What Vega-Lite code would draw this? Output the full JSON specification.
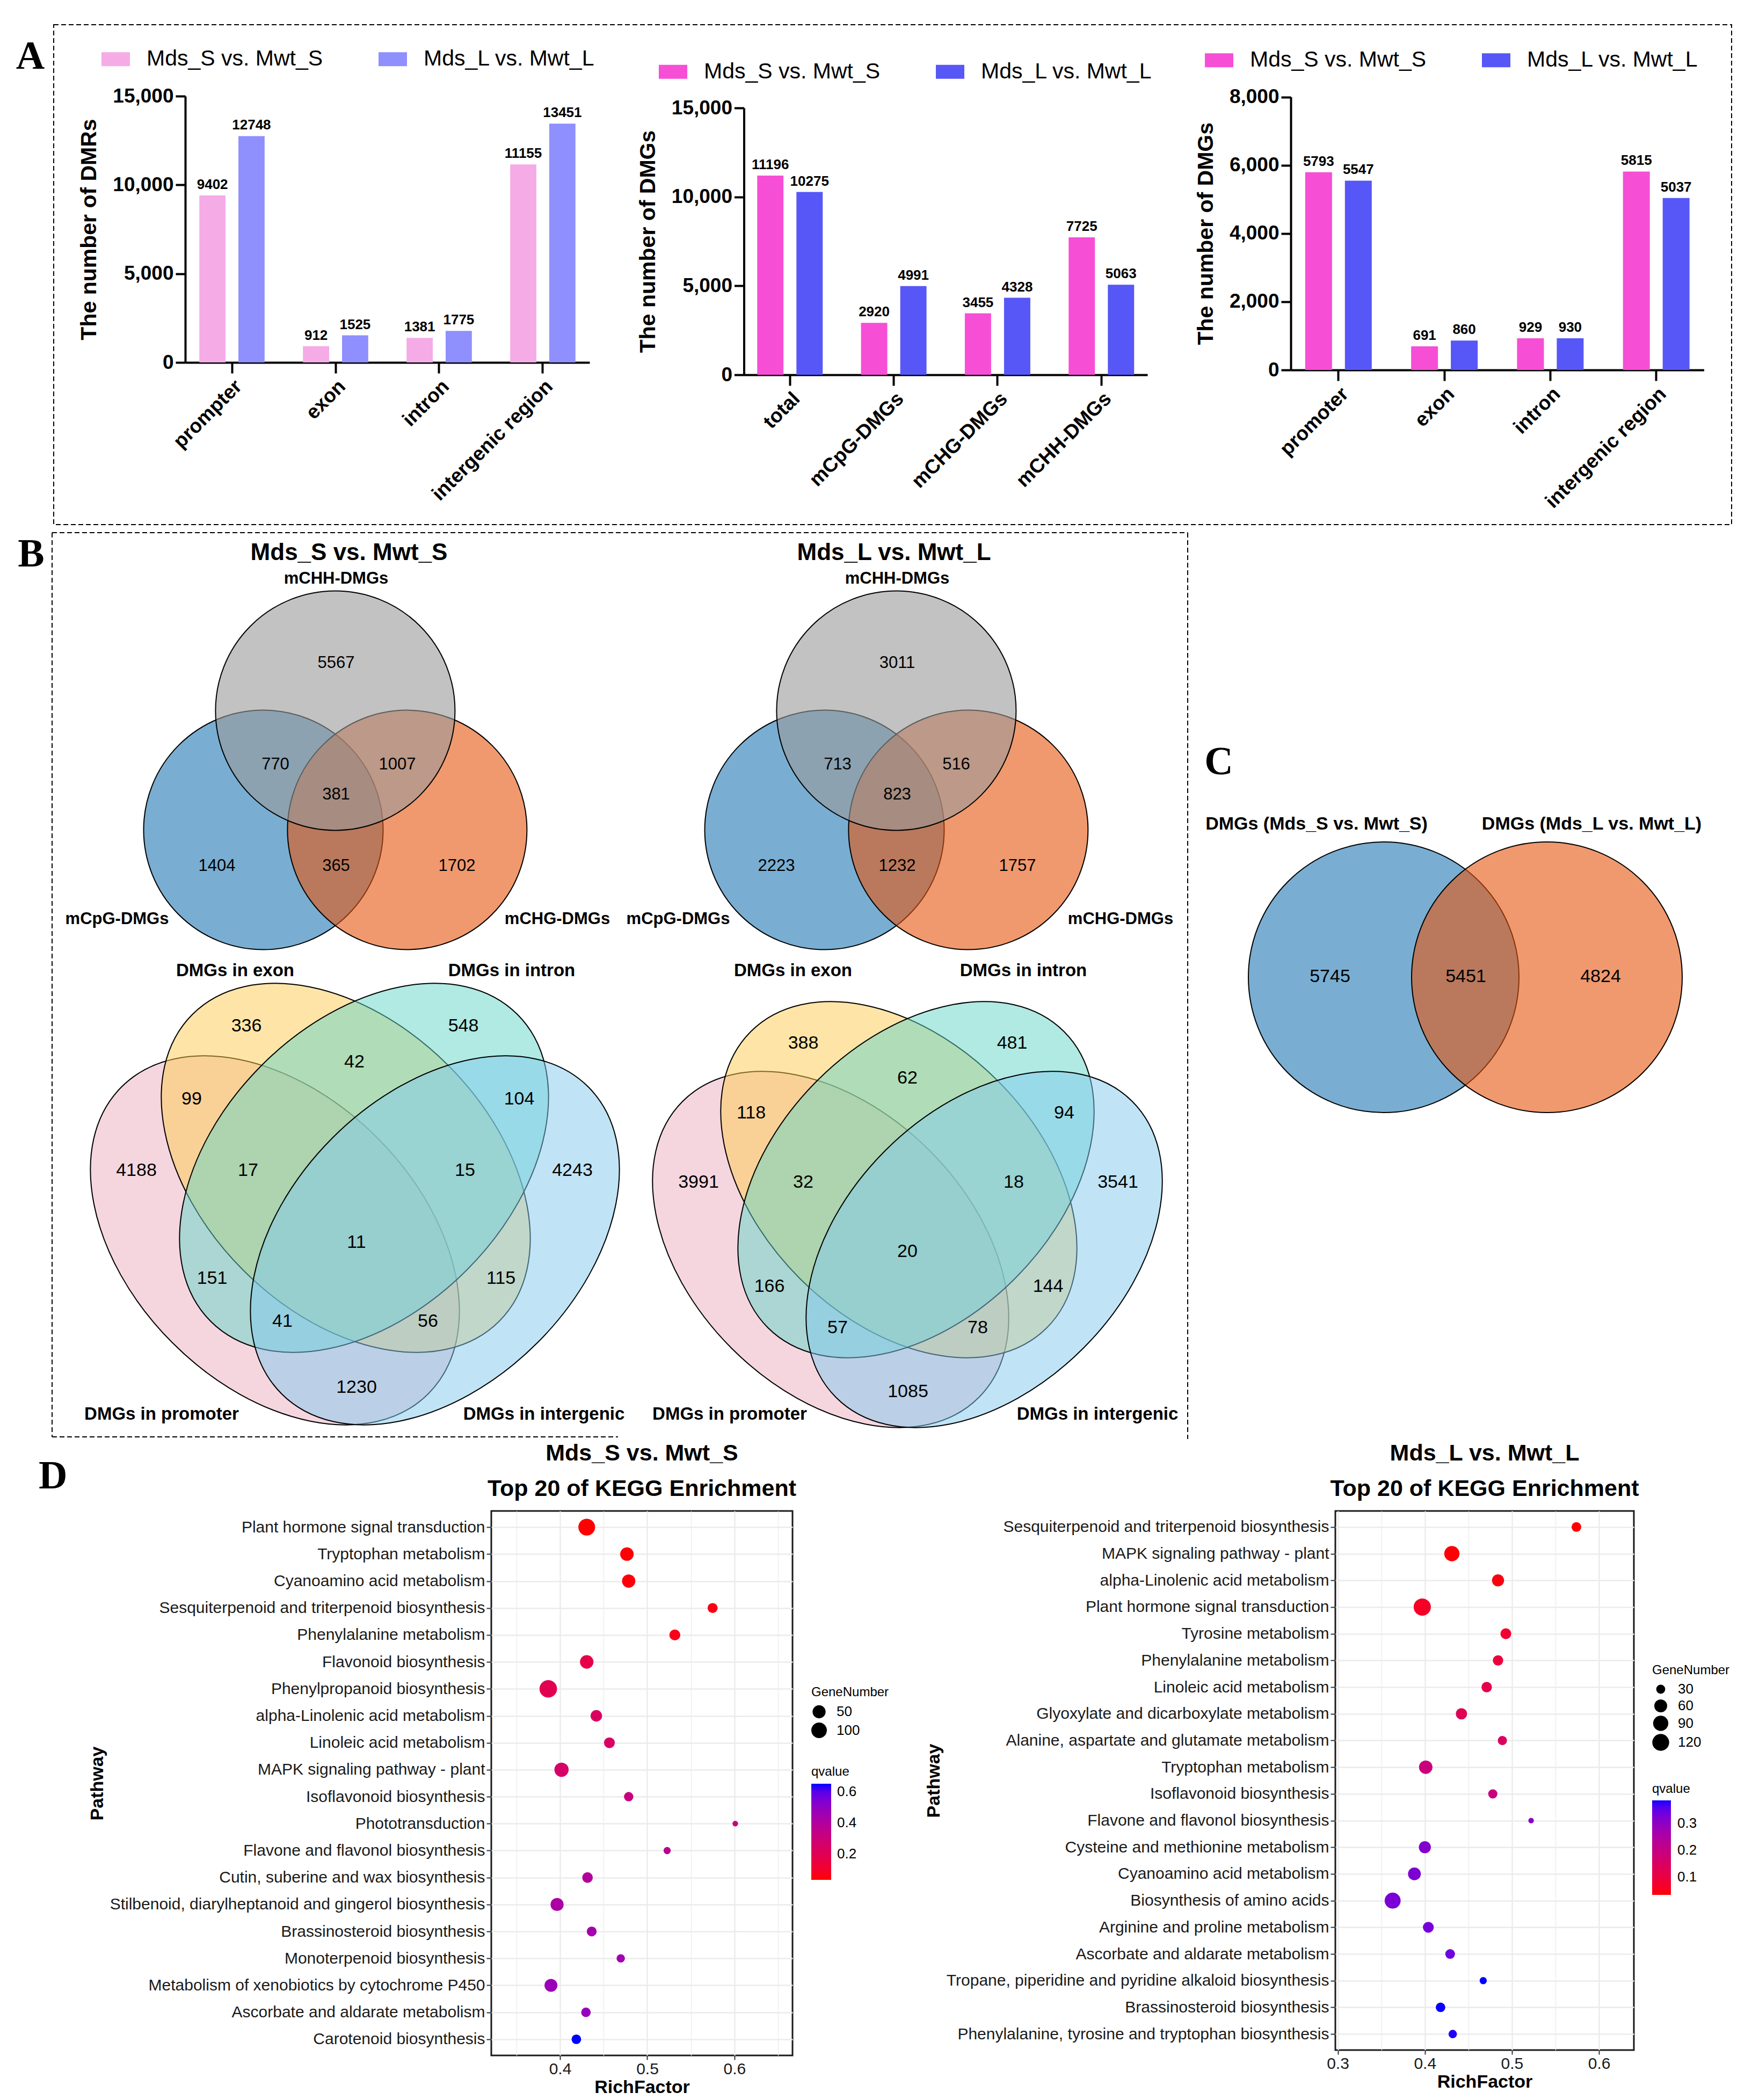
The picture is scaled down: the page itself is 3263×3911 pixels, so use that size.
{
  "$schema": "https://vega.github.io/schema/vega-lite/v6.json",
  "background": "white",
  "padding": 0,
  "spacing": 3,
  "config": {
    "font": "Liberation Sans",
    "view": {"stroke": null},
    "axis": {"labelOverlap": false, "labelLimit": 1000, "labelFlush": false, "maxExtent": 1000},
    "legend": {"labelLimit": 1000, "titleLimit": 1000}
  },
  "resolve": {
    "scale": {"color": "independent", "size": "independent", "fill": "independent"},
    "legend": {"color": "independent", "size": "independent", "fill": "independent"}
  },
  "vconcat": [
    {
      "width": 3263,
      "height": 2680,
      "resolve": {
        "scale": {"x": "independent", "y": "independent", "xOffset": "independent", "color": "independent", "fill": "independent"},
        "axis": {"x": "independent", "y": "independent"},
        "legend": {"color": "independent", "fill": "independent"}
      },
      "layer": [
        {
          "data": {"values": [{}]},
          "layer": [
            {"mark": {"type": "rect", "filled": false, "stroke": "black", "strokeWidth": 2, "strokeDash": [9, 5]},
             "encoding": {
               "x": {"datum": 100, "type": "quantitative", "scale": {"domain": [0, 3263], "range": [0, 3263], "nice": false, "zero": false}, "axis": null},
               "x2": {"datum": 3225},
               "y": {"datum": 46, "type": "quantitative", "scale": {"domain": [0, 2690], "range": [0, 2690], "nice": false, "zero": false}, "axis": null},
               "y2": {"datum": 977}}},
            {"mark": {"type": "rule", "color": "black", "strokeWidth": 2, "strokeDash": [9, 5]},
             "encoding": {"x": {"datum": 97, "type": "quantitative", "axis": null}, "x2": {"datum": 2212}, "y": {"datum": 992, "type": "quantitative", "axis": null}}},
            {"mark": {"type": "rule", "color": "black", "strokeWidth": 2, "strokeDash": [9, 5]},
             "encoding": {"x": {"datum": 97, "type": "quantitative", "axis": null}, "y": {"datum": 992, "type": "quantitative", "axis": null}, "y2": {"datum": 2676}}},
            {"mark": {"type": "rule", "color": "black", "strokeWidth": 2, "strokeDash": [9, 5]},
             "encoding": {"x": {"datum": 2212, "type": "quantitative", "axis": null}, "y": {"datum": 992, "type": "quantitative", "axis": null}, "y2": {"datum": 2680}}},
            {"mark": {"type": "rule", "color": "black", "strokeWidth": 2, "strokeDash": [9, 5]},
             "encoding": {"x": {"datum": 97, "type": "quantitative", "axis": null}, "x2": {"datum": 1151}, "y": {"datum": 2676, "type": "quantitative", "axis": null}}},
            {"mark": {"type": "text", "text": "A", "font": "Liberation Serif", "fontSize": 74, "fontWeight": "bold", "align": "center", "baseline": "alphabetic", "color": "black"},
             "encoding": {"x": {"datum": 56.5, "type": "quantitative", "axis": null}, "y": {"datum": 128, "type": "quantitative", "axis": null}}},
            {"mark": {"type": "text", "text": "B", "font": "Liberation Serif", "fontSize": 74, "fontWeight": "bold", "align": "center", "baseline": "alphabetic", "color": "black"},
             "encoding": {"x": {"datum": 58, "type": "quantitative", "axis": null}, "y": {"datum": 1055, "type": "quantitative", "axis": null}}},
            {"mark": {"type": "text", "text": "C", "font": "Liberation Serif", "fontSize": 74, "fontWeight": "bold", "align": "center", "baseline": "alphabetic", "color": "black"},
             "encoding": {"x": {"datum": 2270, "type": "quantitative", "axis": null}, "y": {"datum": 1442, "type": "quantitative", "axis": null}}}
          ]
        },
        {
          "data": {"values": [
            {"region": "prompter", "comparison": "Mds_S vs. Mwt_S", "count": 9402},
            {"region": "prompter", "comparison": "Mds_L vs. Mwt_L", "count": 12748},
            {"region": "exon", "comparison": "Mds_S vs. Mwt_S", "count": 912},
            {"region": "exon", "comparison": "Mds_L vs. Mwt_L", "count": 1525},
            {"region": "intron", "comparison": "Mds_S vs. Mwt_S", "count": 1381},
            {"region": "intron", "comparison": "Mds_L vs. Mwt_L", "count": 1775},
            {"region": "intergenic region", "comparison": "Mds_S vs. Mwt_S", "count": 11155},
            {"region": "intergenic region", "comparison": "Mds_L vs. Mwt_L", "count": 13451}
          ]},
          "encoding": {
            "x": {"field": "region", "type": "nominal", "sort": null,
                  "scale": {"range": [345, 1098], "paddingInner": 0.37, "paddingOuter": 0.136},
                  "axis": {"orient": "bottom", "offset": -2005, "title": null, "labelAngle": -45, "labelAlign": "right", "labelBaseline": "top", "labelFontSize": 37, "labelFontWeight": "bold", "labelColor": "black", "labelPadding": 6, "domainColor": "black", "domainWidth": 4, "tickColor": "black", "tickWidth": 4, "tickSize": 20, "grid": false}},
            "xOffset": {"field": "comparison", "type": "nominal", "sort": ["Mds_S vs. Mwt_S", "Mds_L vs. Mwt_L"], "scale": {"paddingInner": 0.33, "paddingOuter": 0}},
            "y": {"field": "count", "type": "quantitative",
                  "scale": {"domain": [0, 15000], "range": [675, 179], "nice": false},
                  "axis": {"orient": "left", "offset": -345, "values": [0, 5000, 10000, 15000], "format": ",.0f", "title": "The number of DMRs", "titleFontSize": 41, "titleFontWeight": "bold", "titleColor": "black", "titlePadding": 22, "labelFontSize": 37, "labelFontWeight": "bold", "labelColor": "black", "labelPadding": 4, "domainColor": "black", "domainWidth": 4, "tickColor": "black", "tickWidth": 4, "tickSize": 18, "grid": false}}
          },
          "layer": [
            {"mark": {"type": "bar"},
             "encoding": {"color": {"field": "comparison", "type": "nominal", "sort": ["Mds_S vs. Mwt_S", "Mds_L vs. Mwt_L"],
               "scale": {"domain": ["Mds_S vs. Mwt_S", "Mds_L vs. Mwt_L"], "range": ["#F5ABE6", "#8F8FFE"]},
               "legend": {"orient": "none", "legendX": 189, "legendY": 83.5, "direction": "horizontal", "title": null, "symbolType": "M-1,-0.49H1V0.49H-1Z", "symbolSize": 2809, "symbolStrokeWidth": 0, "symbolOpacity": 1, "labelFontSize": 41, "labelColor": "black", "labelOffset": 31, "columnPadding": 103}}}},
            {"mark": {"type": "text", "baseline": "alphabetic", "dy": -12, "font": "Liberation Sans Narrow, Liberation Sans", "fontSize": 26, "fontWeight": "bold", "color": "black"},
             "encoding": {"text": {"field": "count", "type": "quantitative", "format": "d"}}}
          ]
        },
        {
          "data": {"values": [
            {"group": "total", "comparison": "Mds_S vs. Mwt_S", "count": 11196},
            {"group": "total", "comparison": "Mds_L vs. Mwt_L", "count": 10275},
            {"group": "mCpG-DMGs", "comparison": "Mds_S vs. Mwt_S", "count": 2920},
            {"group": "mCpG-DMGs", "comparison": "Mds_L vs. Mwt_L", "count": 4991},
            {"group": "mCHG-DMGs", "comparison": "Mds_S vs. Mwt_S", "count": 3455},
            {"group": "mCHG-DMGs", "comparison": "Mds_L vs. Mwt_L", "count": 4328},
            {"group": "mCHH-DMGs", "comparison": "Mds_S vs. Mwt_S", "count": 7725},
            {"group": "mCHH-DMGs", "comparison": "Mds_L vs. Mwt_L", "count": 5063}
          ]},
          "encoding": {
            "x": {"field": "group", "type": "nominal", "sort": null,
                  "scale": {"range": [1385.5, 2137], "paddingInner": 0.369, "paddingOuter": 0.128},
                  "axis": {"orient": "bottom", "offset": -1982, "title": null, "labelAngle": -45, "labelAlign": "right", "labelBaseline": "top", "labelFontSize": 37, "labelFontWeight": "bold", "labelColor": "black", "labelPadding": 6, "domainColor": "black", "domainWidth": 4, "tickColor": "black", "tickWidth": 4, "tickSize": 20, "grid": false}},
            "xOffset": {"field": "comparison", "type": "nominal", "sort": ["Mds_S vs. Mwt_S", "Mds_L vs. Mwt_L"], "scale": {"paddingInner": 0.33, "paddingOuter": 0}},
            "y": {"field": "count", "type": "quantitative",
                  "scale": {"domain": [0, 15000], "range": [698, 201], "nice": false},
                  "axis": {"orient": "left", "offset": -1385.5, "values": [0, 5000, 10000, 15000], "format": ",.0f", "title": "The number of DMGs", "titleFontSize": 41, "titleFontWeight": "bold", "titleColor": "black", "titlePadding": 22, "labelFontSize": 37, "labelFontWeight": "bold", "labelColor": "black", "labelPadding": 4, "domainColor": "black", "domainWidth": 4, "tickColor": "black", "tickWidth": 4, "tickSize": 18, "grid": false}}
          },
          "layer": [
            {"mark": {"type": "bar"},
             "encoding": {"color": {"field": "comparison", "type": "nominal", "sort": ["Mds_S vs. Mwt_S", "Mds_L vs. Mwt_L"],
               "scale": {"domain": ["Mds_S vs. Mwt_S", "Mds_L vs. Mwt_L"], "range": ["#F64FD6", "#5757F7"]},
               "legend": {"orient": "none", "legendX": 1227, "legendY": 107, "direction": "horizontal", "title": null, "symbolType": "M-1,-0.49H1V0.49H-1Z", "symbolSize": 2809, "symbolStrokeWidth": 0, "symbolOpacity": 1, "labelFontSize": 41, "labelColor": "black", "labelOffset": 31, "columnPadding": 103}}}},
            {"mark": {"type": "text", "baseline": "alphabetic", "dy": -12, "font": "Liberation Sans Narrow, Liberation Sans", "fontSize": 26, "fontWeight": "bold", "color": "black"},
             "encoding": {"text": {"field": "count", "type": "quantitative", "format": "d"}}}
          ]
        },
        {
          "data": {"values": [
            {"region": "promoter", "comparison": "Mds_S vs. Mwt_S", "count": 5793},
            {"region": "promoter", "comparison": "Mds_L vs. Mwt_L", "count": 5547},
            {"region": "exon", "comparison": "Mds_S vs. Mwt_S", "count": 691},
            {"region": "exon", "comparison": "Mds_L vs. Mwt_L", "count": 860},
            {"region": "intron", "comparison": "Mds_S vs. Mwt_S", "count": 929},
            {"region": "intron", "comparison": "Mds_L vs. Mwt_L", "count": 930},
            {"region": "intergenic region", "comparison": "Mds_S vs. Mwt_S", "count": 5815},
            {"region": "intergenic region", "comparison": "Mds_L vs. Mwt_L", "count": 5037}
          ]},
          "encoding": {
            "x": {"field": "region", "type": "nominal", "sort": null,
                  "scale": {"range": [2404, 3173.5], "paddingInner": 0.3715, "paddingOuter": 0.136},
                  "axis": {"orient": "bottom", "offset": -1991, "title": null, "labelAngle": -45, "labelAlign": "right", "labelBaseline": "top", "labelFontSize": 37, "labelFontWeight": "bold", "labelColor": "black", "labelPadding": 6, "domainColor": "black", "domainWidth": 4, "tickColor": "black", "tickWidth": 4, "tickSize": 20, "grid": false}},
            "xOffset": {"field": "comparison", "type": "nominal", "sort": ["Mds_S vs. Mwt_S", "Mds_L vs. Mwt_L"], "scale": {"paddingInner": 0.324, "paddingOuter": 0}},
            "y": {"field": "count", "type": "quantitative",
                  "scale": {"domain": [0, 8000], "range": [689, 180.5], "nice": false},
                  "axis": {"orient": "left", "offset": -2404, "values": [0, 2000, 4000, 6000, 8000], "format": ",.0f", "title": "The number of DMGs", "titleFontSize": 41, "titleFontWeight": "bold", "titleColor": "black", "titlePadding": 22, "labelFontSize": 37, "labelFontWeight": "bold", "labelColor": "black", "labelPadding": 4, "domainColor": "black", "domainWidth": 4, "tickColor": "black", "tickWidth": 4, "tickSize": 18, "grid": false}}
          },
          "layer": [
            {"mark": {"type": "bar"},
             "encoding": {"color": {"field": "comparison", "type": "nominal", "sort": ["Mds_S vs. Mwt_S", "Mds_L vs. Mwt_L"],
               "scale": {"domain": ["Mds_S vs. Mwt_S", "Mds_L vs. Mwt_L"], "range": ["#F64FD6", "#5757F7"]},
               "legend": {"orient": "none", "legendX": 2244, "legendY": 85.5, "direction": "horizontal", "title": null, "symbolType": "M-1,-0.49H1V0.49H-1Z", "symbolSize": 2809, "symbolStrokeWidth": 0, "symbolOpacity": 1, "labelFontSize": 41, "labelColor": "black", "labelOffset": 31, "columnPadding": 103}}}},
            {"mark": {"type": "text", "baseline": "alphabetic", "dy": -12, "font": "Liberation Sans Narrow, Liberation Sans", "fontSize": 26, "fontWeight": "bold", "color": "black"},
             "encoding": {"text": {"field": "count", "type": "quantitative", "format": "d"}}}
          ]
        },
        {
          "layer": [
            {"data": {"values": [
               {"set": "mCpG-DMGs", "vx": 0.3405, "vy": 0.5456},
               {"set": "mCHG-DMGs", "vx": 0.6084, "vy": 0.5456},
               {"set": "mCHH-DMGs", "vx": 0.4744, "vy": 0.3234}]},
             "mark": {"type": "point", "shape": "circle", "filled": true, "size": 198916, "opacity": 1, "fillOpacity": 0.6, "stroke": "black", "strokeWidth": 2, "strokeOpacity": 1},
             "encoding": {
               "x": {"field": "vx", "type": "quantitative", "scale": {"domain": [0, 1], "range": [150, 1150], "nice": false}, "axis": null},
               "y": {"field": "vy", "type": "quantitative", "scale": {"domain": [0, 1], "range": [1000, 2000], "nice": false}, "axis": null},
               "fill": {"field": "set", "type": "nominal", "scale": {"domain": ["mCpG-DMGs", "mCHG-DMGs", "mCHH-DMGs"], "range": ["#1F78B4", "#E6550D", "#999999"]}, "legend": null}}},
            {"data": {"values": [
               {"count": 5567, "vx": 0.476, "vy": 0.235},
               {"count": 770, "vx": 0.363, "vy": 0.424},
               {"count": 1007, "vx": 0.590, "vy": 0.424},
               {"count": 381, "vx": 0.476, "vy": 0.480},
               {"count": 1404, "vx": 0.254, "vy": 0.613},
               {"count": 365, "vx": 0.476, "vy": 0.613},
               {"count": 1702, "vx": 0.701, "vy": 0.613}]},
             "mark": {"type": "text", "fontSize": 31, "color": "black", "baseline": "middle", "align": "center"},
             "encoding": {
               "x": {"field": "vx", "type": "quantitative", "axis": null},
               "y": {"field": "vy", "type": "quantitative", "axis": null},
               "text": {"field": "count", "type": "quantitative", "format": "d"}}},
            {"data": {"values": [
               {"label": "mCHH-DMGs", "vx": 0.476, "vy": 0.078},
               {"label": "mCpG-DMGs", "vx": 0.068, "vy": 0.712},
               {"label": "mCHG-DMGs", "vx": 0.888, "vy": 0.712},
               {"label": "Mds_S vs. Mwt_S", "vx": 0.500, "vy": 0.030, "big": true}]},
             "mark": {"type": "text", "fontWeight": "bold", "color": "black", "baseline": "middle", "align": "center"},
             "encoding": {
               "x": {"field": "vx", "type": "quantitative", "axis": null},
               "y": {"field": "vy", "type": "quantitative", "axis": null},
               "size": {"condition": {"test": "datum.big", "value": 44}, "value": 31},
               "text": {"field": "label"}}}
          ]
        },
        {
          "layer": [
            {"data": {"values": [
               {"set": "mCpG-DMGs", "vx": 0.3405, "vy": 0.5456},
               {"set": "mCHG-DMGs", "vx": 0.6084, "vy": 0.5456},
               {"set": "mCHH-DMGs", "vx": 0.4744, "vy": 0.3234}]},
             "mark": {"type": "point", "shape": "circle", "filled": true, "size": 198916, "opacity": 1, "fillOpacity": 0.6, "stroke": "black", "strokeWidth": 2, "strokeOpacity": 1},
             "encoding": {
               "x": {"field": "vx", "type": "quantitative", "scale": {"domain": [0, 1], "range": [1195, 2195], "nice": false}, "axis": null},
               "y": {"field": "vy", "type": "quantitative", "scale": {"domain": [0, 1], "range": [1000, 2000], "nice": false}, "axis": null},
               "fill": {"field": "set", "type": "nominal", "scale": {"domain": ["mCpG-DMGs", "mCHG-DMGs", "mCHH-DMGs"], "range": ["#1F78B4", "#E6550D", "#999999"]}, "legend": null}}},
            {"data": {"values": [
               {"count": 3011, "vx": 0.476, "vy": 0.235},
               {"count": 713, "vx": 0.365, "vy": 0.424},
               {"count": 516, "vx": 0.586, "vy": 0.424},
               {"count": 823, "vx": 0.476, "vy": 0.480},
               {"count": 2223, "vx": 0.251, "vy": 0.613},
               {"count": 1232, "vx": 0.476, "vy": 0.613},
               {"count": 1757, "vx": 0.700, "vy": 0.613}]},
             "mark": {"type": "text", "fontSize": 31, "color": "black", "baseline": "middle", "align": "center"},
             "encoding": {
               "x": {"field": "vx", "type": "quantitative", "axis": null},
               "y": {"field": "vy", "type": "quantitative", "axis": null},
               "text": {"field": "count", "type": "quantitative", "format": "d"}}},
            {"data": {"values": [
               {"label": "mCHH-DMGs", "vx": 0.476, "vy": 0.078},
               {"label": "mCpG-DMGs", "vx": 0.068, "vy": 0.712},
               {"label": "mCHG-DMGs", "vx": 0.892, "vy": 0.712},
               {"label": "Mds_L vs. Mwt_L", "vx": 0.470, "vy": 0.030, "big": true}]},
             "mark": {"type": "text", "fontWeight": "bold", "color": "black", "baseline": "middle", "align": "center"},
             "encoding": {
               "x": {"field": "vx", "type": "quantitative", "axis": null},
               "y": {"field": "vy", "type": "quantitative", "axis": null},
               "size": {"condition": {"test": "datum.big", "value": 44}, "value": 31},
               "text": {"field": "label"}}}
          ]
        },
        {
          "layer": [
            {"data": {"values": [
               {"set": "DMGs in promoter", "vx": 0.412, "vy": 0.530},
               {"set": "DMGs in exon", "vx": 0.544, "vy": 0.395}]},
             "mark": {"type": "point", "shape": "M-1,0C-1,-0.3689,-0.5523,-0.668,0,-0.668C0.5523,-0.668,1,-0.3689,1,0C1,0.3689,0.5523,0.668,0,0.668C-0.5523,0.668,-1,0.3689,-1,0Z", "angle": 45, "filled": true, "size": 652864, "opacity": 1, "fillOpacity": 0.5, "stroke": "black", "strokeWidth": 2, "strokeOpacity": 1},
             "encoding": {
               "x": {"field": "vx", "type": "quantitative", "scale": {"domain": [0, 1], "range": [100, 1100], "nice": false}, "axis": null},
               "y": {"field": "vy", "type": "quantitative", "scale": {"domain": [0, 1], "range": [1780, 2780], "nice": false}, "axis": null},
               "fill": {"field": "set", "type": "nominal", "scale": {"domain": ["DMGs in promoter", "DMGs in exon", "DMGs in intron", "DMGs in intergenic"], "range": ["#EBADBF", "#FDCB4F", "#61D5C7", "#81C9ED"]}, "legend": null}}},
            {"data": {"values": [
               {"set": "DMGs in intron", "vx": 0.578, "vy": 0.395},
               {"set": "DMGs in intergenic", "vx": 0.710, "vy": 0.530}]},
             "mark": {"type": "point", "shape": "M-1,0C-1,-0.3689,-0.5523,-0.668,0,-0.668C0.5523,-0.668,1,-0.3689,1,0C1,0.3689,0.5523,0.668,0,0.668C-0.5523,0.668,-1,0.3689,-1,0Z", "angle": -45, "filled": true, "size": 652864, "opacity": 1, "fillOpacity": 0.5, "stroke": "black", "strokeWidth": 2, "strokeOpacity": 1},
             "encoding": {
               "x": {"field": "vx", "type": "quantitative", "axis": null},
               "y": {"field": "vy", "type": "quantitative", "axis": null},
               "fill": {"field": "set", "type": "nominal", "legend": null}}},
            {"data": {"values": [
               {"count": 336, "vx": 0.359, "vy": 0.131},
               {"count": 548, "vx": 0.763, "vy": 0.131},
               {"count": 42, "vx": 0.560, "vy": 0.198},
               {"count": 99, "vx": 0.257, "vy": 0.267},
               {"count": 104, "vx": 0.867, "vy": 0.267},
               {"count": 4188, "vx": 0.154, "vy": 0.400},
               {"count": 17, "vx": 0.362, "vy": 0.400},
               {"count": 15, "vx": 0.766, "vy": 0.400},
               {"count": 4243, "vx": 0.966, "vy": 0.400},
               {"count": 11, "vx": 0.564, "vy": 0.534},
               {"count": 151, "vx": 0.295, "vy": 0.601},
               {"count": 115, "vx": 0.833, "vy": 0.601},
               {"count": 41, "vx": 0.426, "vy": 0.681},
               {"count": 56, "vx": 0.697, "vy": 0.681},
               {"count": 1230, "vx": 0.564, "vy": 0.804}]},
             "mark": {"type": "text", "fontSize": 34, "color": "black", "baseline": "middle", "align": "center"},
             "encoding": {
               "x": {"field": "vx", "type": "quantitative", "axis": null},
               "y": {"field": "vy", "type": "quantitative", "axis": null},
               "text": {"field": "count", "type": "quantitative", "format": "d"}}},
            {"data": {"values": [
               {"label": "DMGs in exon", "vx": 0.338, "vy": 0.028},
               {"label": "DMGs in intron", "vx": 0.853, "vy": 0.028},
               {"label": "DMGs in promoter", "vx": 0.201, "vy": 0.854},
               {"label": "DMGs in intergenic", "vx": 0.913, "vy": 0.854}]},
             "mark": {"type": "text", "fontSize": 33, "fontWeight": "bold", "color": "black", "baseline": "middle", "align": "center"},
             "encoding": {
               "x": {"field": "vx", "type": "quantitative", "axis": null},
               "y": {"field": "vy", "type": "quantitative", "axis": null},
               "text": {"field": "label"}}}
          ]
        },
        {
          "layer": [
            {"data": {"values": [
               {"set": "DMGs in promoter", "vx": 0.397, "vy": 0.547},
               {"set": "DMGs in exon", "vx": 0.524, "vy": 0.417}]},
             "mark": {"type": "point", "shape": "M-1,0C-1,-0.3689,-0.5523,-0.668,0,-0.668C0.5523,-0.668,1,-0.3689,1,0C1,0.3689,0.5523,0.668,0,0.668C-0.5523,0.668,-1,0.3689,-1,0Z", "angle": 45, "filled": true, "size": 608400, "opacity": 1, "fillOpacity": 0.5, "stroke": "black", "strokeWidth": 2, "strokeOpacity": 1},
             "encoding": {
               "x": {"field": "vx", "type": "quantitative", "scale": {"domain": [0, 1], "range": [1150, 2150], "nice": false}, "axis": null},
               "y": {"field": "vy", "type": "quantitative", "scale": {"domain": [0, 1], "range": [1780, 2780], "nice": false}, "axis": null},
               "fill": {"field": "set", "type": "nominal", "scale": {"domain": ["DMGs in promoter", "DMGs in exon", "DMGs in intron", "DMGs in intergenic"], "range": ["#EBADBF", "#FDCB4F", "#61D5C7", "#81C9ED"]}, "legend": null}}},
            {"data": {"values": [
               {"set": "DMGs in intron", "vx": 0.556, "vy": 0.417},
               {"set": "DMGs in intergenic", "vx": 0.683, "vy": 0.547}]},
             "mark": {"type": "point", "shape": "M-1,0C-1,-0.3689,-0.5523,-0.668,0,-0.668C0.5523,-0.668,1,-0.3689,1,0C1,0.3689,0.5523,0.668,0,0.668C-0.5523,0.668,-1,0.3689,-1,0Z", "angle": -45, "filled": true, "size": 608400, "opacity": 1, "fillOpacity": 0.5, "stroke": "black", "strokeWidth": 2, "strokeOpacity": 1},
             "encoding": {
               "x": {"field": "vx", "type": "quantitative", "axis": null},
               "y": {"field": "vy", "type": "quantitative", "axis": null},
               "fill": {"field": "set", "type": "nominal", "legend": null}}},
            {"data": {"values": [
               {"count": 388, "vx": 0.346, "vy": 0.163},
               {"count": 481, "vx": 0.735, "vy": 0.163},
               {"count": 62, "vx": 0.540, "vy": 0.228},
               {"count": 118, "vx": 0.249, "vy": 0.293},
               {"count": 94, "vx": 0.832, "vy": 0.293},
               {"count": 3991, "vx": 0.151, "vy": 0.422},
               {"count": 32, "vx": 0.346, "vy": 0.422},
               {"count": 18, "vx": 0.738, "vy": 0.422},
               {"count": 3541, "vx": 0.932, "vy": 0.422},
               {"count": 20, "vx": 0.540, "vy": 0.551},
               {"count": 166, "vx": 0.283, "vy": 0.616},
               {"count": 144, "vx": 0.802, "vy": 0.616},
               {"count": 57, "vx": 0.410, "vy": 0.693},
               {"count": 78, "vx": 0.671, "vy": 0.693},
               {"count": 1085, "vx": 0.541, "vy": 0.812}]},
             "mark": {"type": "text", "fontSize": 34, "color": "black", "baseline": "middle", "align": "center"},
             "encoding": {
               "x": {"field": "vx", "type": "quantitative", "axis": null},
               "y": {"field": "vy", "type": "quantitative", "axis": null},
               "text": {"field": "count", "type": "quantitative", "format": "d"}}},
            {"data": {"values": [
               {"label": "DMGs in exon", "vx": 0.327, "vy": 0.028},
               {"label": "DMGs in intron", "vx": 0.756, "vy": 0.028},
               {"label": "DMGs in promoter", "vx": 0.209, "vy": 0.854},
               {"label": "DMGs in intergenic", "vx": 0.894, "vy": 0.854}]},
             "mark": {"type": "text", "fontSize": 33, "fontWeight": "bold", "color": "black", "baseline": "middle", "align": "center"},
             "encoding": {
               "x": {"field": "vx", "type": "quantitative", "axis": null},
               "y": {"field": "vy", "type": "quantitative", "axis": null},
               "text": {"field": "label"}}}
          ]
        },
        {
          "layer": [
            {"data": {"values": [
               {"set": "DMGs (Mds_S vs. Mwt_S)", "vx": 0.327, "vy": 0.370},
               {"set": "DMGs (Mds_L vs. Mwt_L)", "vx": 0.631, "vy": 0.370}]},
             "mark": {"type": "point", "shape": "circle", "filled": true, "size": 254016, "opacity": 1, "fillOpacity": 0.6, "stroke": "black", "strokeWidth": 2, "strokeOpacity": 1},
             "encoding": {
               "x": {"field": "vx", "type": "quantitative", "scale": {"domain": [0, 1], "range": [2250, 3250], "nice": false}, "axis": null},
               "y": {"field": "vy", "type": "quantitative", "scale": {"domain": [0, 1], "range": [1450, 2450], "nice": false}, "axis": null},
               "fill": {"field": "set", "type": "nominal", "scale": {"domain": ["DMGs (Mds_S vs. Mwt_S)", "DMGs (Mds_L vs. Mwt_L)"], "range": ["#1F78B4", "#E6550D"]}, "legend": null}}},
            {"data": {"values": [
               {"count": 5745, "vx": 0.227, "vy": 0.369},
               {"count": 5451, "vx": 0.480, "vy": 0.369},
               {"count": 4824, "vx": 0.731, "vy": 0.369}]},
             "mark": {"type": "text", "fontSize": 34, "color": "black", "baseline": "middle", "align": "center"},
             "encoding": {
               "x": {"field": "vx", "type": "quantitative", "axis": null},
               "y": {"field": "vy", "type": "quantitative", "axis": null},
               "text": {"field": "count", "type": "quantitative", "format": "d"}}},
            {"data": {"values": [
               {"label": "DMGs (Mds_S vs. Mwt_S)", "vx": 0.202, "vy": 0.085},
               {"label": "DMGs (Mds_L vs. Mwt_L)", "vx": 0.7145, "vy": 0.085}]},
             "mark": {"type": "text", "fontSize": 34, "fontWeight": "bold", "color": "black", "baseline": "middle", "align": "center"},
             "encoding": {
               "x": {"field": "vx", "type": "quantitative", "axis": null},
               "y": {"field": "vy", "type": "quantitative", "axis": null},
               "text": {"field": "label"}}}
          ]
        }
      ]
    },
    {
      "spacing": 22,
      "resolve": {
        "scale": {"color": "independent", "size": "independent"},
        "legend": {"color": "independent", "size": "independent"}
      },
      "hconcat": [
        {
          "width": 140,
          "height": 20,
          "view": {"stroke": null},
          "title": {"text": "D", "font": "Liberation Serif", "fontSize": 74, "fontWeight": "bold", "anchor": "start", "dx": 72, "offset": 26, "color": "black"},
          "data": {"values": [{}]},
          "mark": {"type": "text"},
          "encoding": {"text": {"value": ""}}
        },
        {
          "width": 561,
          "height": 1014,
          "view": {"stroke": "#1a1a1a", "strokeWidth": 3},
          "title": {"text": ["Mds_S vs. Mwt_S", "Top 20 of KEGG Enrichment"], "fontSize": 43, "fontWeight": "bold", "lineHeight": 66, "offset": 19, "color": "black", "anchor": "middle"},
          "data": {"values": [
            {"Pathway": "Plant hormone signal transduction", "RichFactor": 0.4306, "GeneNumber": 134, "qvalue": 0.033},
            {"Pathway": "Tryptophan metabolism", "RichFactor": 0.4767, "GeneNumber": 57, "qvalue": 0.038},
            {"Pathway": "Cyanoamino acid metabolism", "RichFactor": 0.4787, "GeneNumber": 54, "qvalue": 0.043},
            {"Pathway": "Sesquiterpenoid and triterpenoid biosynthesis", "RichFactor": 0.5749, "GeneNumber": 18, "qvalue": 0.055},
            {"Pathway": "Phenylalanine metabolism", "RichFactor": 0.5316, "GeneNumber": 25, "qvalue": 0.065},
            {"Pathway": "Flavonoid biosynthesis", "RichFactor": 0.4306, "GeneNumber": 57, "qvalue": 0.17},
            {"Pathway": "Phenylpropanoid biosynthesis", "RichFactor": 0.3865, "GeneNumber": 160, "qvalue": 0.19},
            {"Pathway": "alpha-Linolenic acid metabolism", "RichFactor": 0.4416, "GeneNumber": 31, "qvalue": 0.23},
            {"Pathway": "Linoleic acid metabolism", "RichFactor": 0.4566, "GeneNumber": 24, "qvalue": 0.24},
            {"Pathway": "MAPK signaling pathway - plant", "RichFactor": 0.4017, "GeneNumber": 71, "qvalue": 0.25},
            {"Pathway": "Isoflavonoid biosynthesis", "RichFactor": 0.4787, "GeneNumber": 14, "qvalue": 0.31},
            {"Pathway": "Phototransduction", "RichFactor": 0.6009, "GeneNumber": 2, "qvalue": 0.32},
            {"Pathway": "Flavone and flavonol biosynthesis", "RichFactor": 0.5228, "GeneNumber": 5, "qvalue": 0.37},
            {"Pathway": "Cutin, suberine and wax biosynthesis", "RichFactor": 0.4315, "GeneNumber": 22, "qvalue": 0.39},
            {"Pathway": "Stilbenoid, diarylheptanoid and gingerol biosynthesis", "RichFactor": 0.3966, "GeneNumber": 51, "qvalue": 0.42},
            {"Pathway": "Brassinosteroid biosynthesis", "RichFactor": 0.4363, "GeneNumber": 17, "qvalue": 0.44},
            {"Pathway": "Monoterpenoid biosynthesis", "RichFactor": 0.4696, "GeneNumber": 9, "qvalue": 0.45},
            {"Pathway": "Metabolism of xenobiotics by cytochrome P450", "RichFactor": 0.3896, "GeneNumber": 48, "qvalue": 0.47},
            {"Pathway": "Ascorbate and aldarate metabolism", "RichFactor": 0.4297, "GeneNumber": 15, "qvalue": 0.48},
            {"Pathway": "Carotenoid biosynthesis", "RichFactor": 0.4187, "GeneNumber": 15, "qvalue": 0.652}
          ]},
          "mark": {"type": "circle", "opacity": 1},
          "encoding": {
            "y": {"field": "Pathway", "type": "nominal", "sort": null, "scale": {"type": "point", "padding": 0.6},
                  "axis": {"title": "Pathway", "titleFontSize": 34, "titleFontWeight": "bold", "titleColor": "black", "titlePadding": 6, "labelFontSize": 30, "labelColor": "#1a1a1a", "labelPadding": 3, "tickSize": 9, "tickWidth": 2, "tickColor": "#333333", "domain": false, "grid": true, "gridColor": "#EBEBEB", "gridWidth": 2.4, "maxExtent": 1000}},
            "x": {"field": "RichFactor", "type": "quantitative", "scale": {"domain": [0.3212, 0.6665], "nice": false, "zero": false},
                  "axis": {"title": "RichFactor", "titleFontSize": 34, "titleFontWeight": "bold", "titleColor": "black", "titlePadding": 2, "values": [0.35, 0.4, 0.45, 0.5, 0.55, 0.6, 0.65],
                           "labelExpr": "abs(datum.value*10 - round(datum.value*10)) < 0.01 ? format(datum.value, '.1f') : ''",
                           "labelFontSize": 30, "labelColor": "#1a1a1a", "labelPadding": 2, "tickSize": 8, "tickWidth": 2, "tickColor": "#333333",
                           "tickOpacity": {"condition": {"test": "abs(datum.value*10 - round(datum.value*10)) < 0.01", "value": 1}, "value": 0},
                           "domain": false, "grid": true, "gridColor": "#EBEBEB",
                           "gridWidth": {"condition": {"test": "abs(datum.value*10 - round(datum.value*10)) < 0.01", "value": 2.4}, "value": 1.3}}},
            "size": {"field": "GeneNumber", "type": "quantitative", "scale": {"type": "sqrt", "domain": [2, 160], "range": [108, 1063], "zero": false},
                     "legend": {"orient": "none", "legendX": 556, "legendY": 286, "padding": 40, "title": "GeneNumber", "titleFontSize": 24, "titleFontWeight": "normal", "titleColor": "black", "titlePadding": 11, "values": [50, 100], "symbolType": "circle", "symbolFillColor": "black", "symbolStrokeWidth": 0, "symbolOpacity": 1, "labelFontSize": 26, "labelColor": "black", "labelOffset": 18, "rowPadding": 7}},
            "color": {"field": "qvalue", "type": "quantitative", "scale": {"domain": [0.033, 0.652], "range": ["#FF0000", "#0000FF"], "interpolate": "lab"},
                      "legend": {"orient": "none", "legendX": 596, "legendY": 474, "title": "qvalue", "titleFontSize": 24, "titleFontWeight": "normal", "titleColor": "black", "titlePadding": 10, "direction": "vertical", "gradientLength": 179, "gradientThickness": 37, "gradientStrokeWidth": 0, "values": [0.2, 0.4, 0.6], "format": ".1f", "labelFontSize": 26, "labelColor": "black", "labelOffset": 11}}
          }
        },
        {
          "width": 556,
          "height": 1004,
          "view": {"stroke": "#1a1a1a", "strokeWidth": 3},
          "title": {"text": ["Mds_L vs. Mwt_L", "Top 20 of KEGG Enrichment"], "fontSize": 43, "fontWeight": "bold", "lineHeight": 66, "offset": 19, "color": "black", "anchor": "middle"},
          "data": {"values": [
            {"Pathway": "Sesquiterpenoid and triterpenoid biosynthesis", "RichFactor": 0.574, "GeneNumber": 34, "qvalue": 0.034},
            {"Pathway": "MAPK signaling pathway - plant", "RichFactor": 0.431, "GeneNumber": 91, "qvalue": 0.038},
            {"Pathway": "alpha-Linolenic acid metabolism", "RichFactor": 0.484, "GeneNumber": 52, "qvalue": 0.045},
            {"Pathway": "Plant hormone signal transduction", "RichFactor": 0.397, "GeneNumber": 126, "qvalue": 0.065},
            {"Pathway": "Tyrosine metabolism", "RichFactor": 0.493, "GeneNumber": 41, "qvalue": 0.078},
            {"Pathway": "Phenylalanine metabolism", "RichFactor": 0.484, "GeneNumber": 38, "qvalue": 0.094},
            {"Pathway": "Linoleic acid metabolism", "RichFactor": 0.471, "GeneNumber": 39, "qvalue": 0.115},
            {"Pathway": "Glyoxylate and dicarboxylate metabolism", "RichFactor": 0.442, "GeneNumber": 45, "qvalue": 0.13},
            {"Pathway": "Alanine, aspartate and glutamate metabolism", "RichFactor": 0.489, "GeneNumber": 31, "qvalue": 0.147},
            {"Pathway": "Tryptophan metabolism", "RichFactor": 0.401, "GeneNumber": 66, "qvalue": 0.19},
            {"Pathway": "Isoflavonoid biosynthesis", "RichFactor": 0.478, "GeneNumber": 31, "qvalue": 0.196},
            {"Pathway": "Flavone and flavonol biosynthesis", "RichFactor": 0.522, "GeneNumber": 17, "qvalue": 0.31},
            {"Pathway": "Cysteine and methionine metabolism", "RichFactor": 0.4, "GeneNumber": 52, "qvalue": 0.316},
            {"Pathway": "Cyanoamino acid metabolism", "RichFactor": 0.388, "GeneNumber": 59, "qvalue": 0.323},
            {"Pathway": "Biosynthesis of amino acids", "RichFactor": 0.363, "GeneNumber": 103, "qvalue": 0.326},
            {"Pathway": "Arginine and proline metabolism", "RichFactor": 0.404, "GeneNumber": 42, "qvalue": 0.33},
            {"Pathway": "Ascorbate and aldarate metabolism", "RichFactor": 0.429, "GeneNumber": 34, "qvalue": 0.337},
            {"Pathway": "Tropane, piperidine and pyridine alkaloid biosynthesis", "RichFactor": 0.467, "GeneNumber": 22, "qvalue": 0.386},
            {"Pathway": "Brassinosteroid biosynthesis", "RichFactor": 0.418, "GeneNumber": 33, "qvalue": 0.385},
            {"Pathway": "Phenylalanine, tyrosine and tryptophan biosynthesis", "RichFactor": 0.432, "GeneNumber": 27, "qvalue": 0.382}
          ]},
          "mark": {"type": "circle", "opacity": 1},
          "encoding": {
            "y": {"field": "Pathway", "type": "nominal", "sort": null, "scale": {"type": "point", "padding": 0.6},
                  "axis": {"title": "Pathway", "titleFontSize": 34, "titleFontWeight": "bold", "titleColor": "black", "titlePadding": 6, "labelFontSize": 30, "labelColor": "#1a1a1a", "labelPadding": 3, "tickSize": 9, "tickWidth": 2, "tickColor": "#333333", "domain": false, "grid": true, "gridColor": "#EBEBEB", "gridWidth": 2.4, "maxExtent": 1000}},
            "x": {"field": "RichFactor", "type": "quantitative", "scale": {"domain": [0.2972, 0.64], "nice": false, "zero": false},
                  "axis": {"title": "RichFactor", "titleFontSize": 34, "titleFontWeight": "bold", "titleColor": "black", "titlePadding": 2, "values": [0.3, 0.35, 0.4, 0.45, 0.5, 0.55, 0.6],
                           "labelExpr": "abs(datum.value*10 - round(datum.value*10)) < 0.01 ? format(datum.value, '.1f') : ''",
                           "labelFontSize": 30, "labelColor": "#1a1a1a", "labelPadding": 2, "tickSize": 8, "tickWidth": 2, "tickColor": "#333333",
                           "tickOpacity": {"condition": {"test": "abs(datum.value*10 - round(datum.value*10)) < 0.01", "value": 1}, "value": 0},
                           "domain": false, "grid": true, "gridColor": "#EBEBEB",
                           "gridWidth": {"condition": {"test": "abs(datum.value*10 - round(datum.value*10)) < 0.01", "value": 2.4}, "value": 1.3}}},
            "size": {"field": "GeneNumber", "type": "quantitative", "scale": {"type": "sqrt", "domain": [17, 126], "range": [106, 1024], "zero": false},
                     "legend": {"orient": "none", "legendX": 590, "legendY": 285, "title": "GeneNumber", "titleFontSize": 24, "titleFontWeight": "normal", "titleColor": "black", "titlePadding": 10, "values": [30, 60, 90, 120], "symbolType": "circle", "symbolFillColor": "black", "symbolStrokeWidth": 0, "symbolOpacity": 1, "labelFontSize": 26, "labelColor": "black", "labelOffset": 16, "rowPadding": 5}},
            "color": {"field": "qvalue", "type": "quantitative", "scale": {"domain": [0.034, 0.386], "range": ["#FF0000", "#0000FF"], "interpolate": "lab"},
                      "legend": {"orient": "none", "legendX": 590, "legendY": 506, "title": "qvalue", "titleFontSize": 24, "titleFontWeight": "normal", "titleColor": "black", "titlePadding": 9, "direction": "vertical", "gradientLength": 176, "gradientThickness": 35, "gradientStrokeWidth": 0, "values": [0.1, 0.2, 0.3], "format": ".1f", "labelFontSize": 26, "labelColor": "black", "labelOffset": 12}}
          }
        }
      ]
    }
  ]
}
